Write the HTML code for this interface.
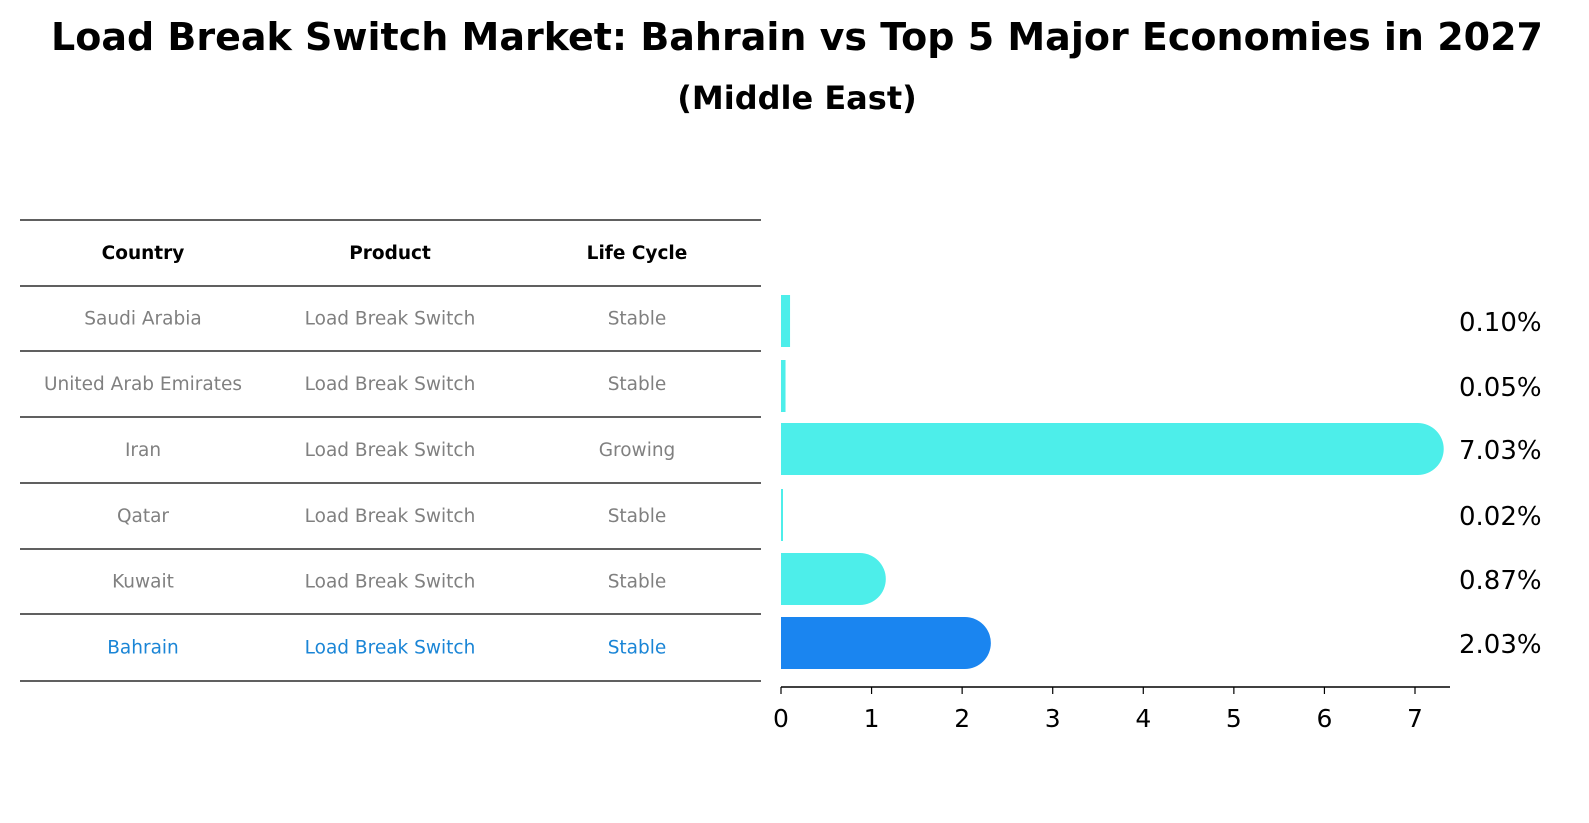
<!DOCTYPE html>
<html><head><meta charset="utf-8"><style>
html,body{margin:0;padding:0;background:#fff;overflow:hidden;width:1589px;height:823px;font-family:"Liberation Sans","DejaVu Sans",sans-serif;}
svg{display:block;}
svg text{font-family:"DejaVu Sans","Liberation Sans",sans-serif;}
</style></head><body>
<svg width="1589" height="823" viewBox="0 0 1589 823">
<text x="797" y="50" text-anchor="middle" font-size="38" font-weight="bold">Load Break Switch Market: Bahrain vs Top 5 Major Economies in 2027</text>
<text x="797" y="109" text-anchor="middle" font-size="32" font-weight="bold">(Middle East)</text>
<g id="table"></g>
<g id="bars"></g>
</svg>
<script>
const countries=["Saudi Arabia","United Arab Emirates","Iran","Qatar","Kuwait","Bahrain"];
const products=["Load Break Switch","Load Break Switch","Load Break Switch","Load Break Switch","Load Break Switch","Load Break Switch"];
const lifeCycles=["Stable","Stable","Growing","Stable","Stable","Stable"];
const values=[0.10,0.05,7.03,0.02,0.87,2.03];
const valueLabels=["0.10%","0.05%","7.03%","0.02%","0.87%","2.03%"];
const xTicks=[0,1,2,3,4,5,6,7];
const NS="http://www.w3.org/2000/svg";
function mk(tag,attrs,parent,text){const e=document.createElementNS(NS,tag);for(const k in attrs)e.setAttribute(k,attrs[k]);if(text!==undefined)e.textContent=text;parent.appendChild(e);return e;}
const tbl=document.getElementById('table');
const lineYs=[220,286,351,417,483,549,614,681];
lineYs.forEach((y,i)=>{const l=mk('line',{x1:20,x2:761,y1:y,y2:y,stroke:'#000','stroke-width':1.2},tbl);

});
const colX=[143,390,637];
["Country","Product","Life Cycle"].forEach((h,i)=>{const t=mk('text',{x:colX[i],y:259,'text-anchor':'middle','font-size':18.5,'font-weight':'bold'},tbl,h);

});
countries.forEach((c,r)=>{const y=(lineYs[r+1]+lineYs[r+2])/2+6;const col=c==="Bahrain"?"#1a85d6":"#808080";
[c,products[r],lifeCycles[r]].forEach((v,i)=>{const t=mk('text',{x:colX[i],y:y,'text-anchor':'middle','font-size':18.5,fill:col},tbl,v);

});});
const g=document.getElementById('bars');
const x0=781,scale=(1415-781)/7;
const xs=v=>x0+v*scale;
const rowY=[321,386,449,515,579,643];const bh=52,r=26;
values.forEach((v,i)=>{const col=countries[i]==="Bahrain"?"#1a85f0":"#4deeea";const w=v*scale;const yc=rowY[i];
let d;
if(w>r){d=`M${x0},${yc-bh/2} H${x0+w} A${r},${r} 0 0 1 ${x0+w},${yc+bh/2} H${x0} Z`;}
else{d=`M${x0},${yc-bh/2} H${x0+Math.max(w,2)} V${yc+bh/2} H${x0} Z`;}
const p=mk('path',{d:d,fill:col},g);


const t=mk('text',{x:1459,y:yc+10,'font-size':26},g,valueLabels[i]);

});
const ax=mk('line',{x1:x0,x2:1450,y1:687,y2:687,stroke:'#000','stroke-width':1.5},g);


xTicks.forEach(t=>{const tk=mk('line',{x1:xs(t),x2:xs(t),y1:687,y2:694,stroke:'#000','stroke-width':1.2},g);


const l=mk('text',{x:xs(t),y:727,'text-anchor':'middle','font-size':25},g,String(t));

});
</script>
</body></html>
